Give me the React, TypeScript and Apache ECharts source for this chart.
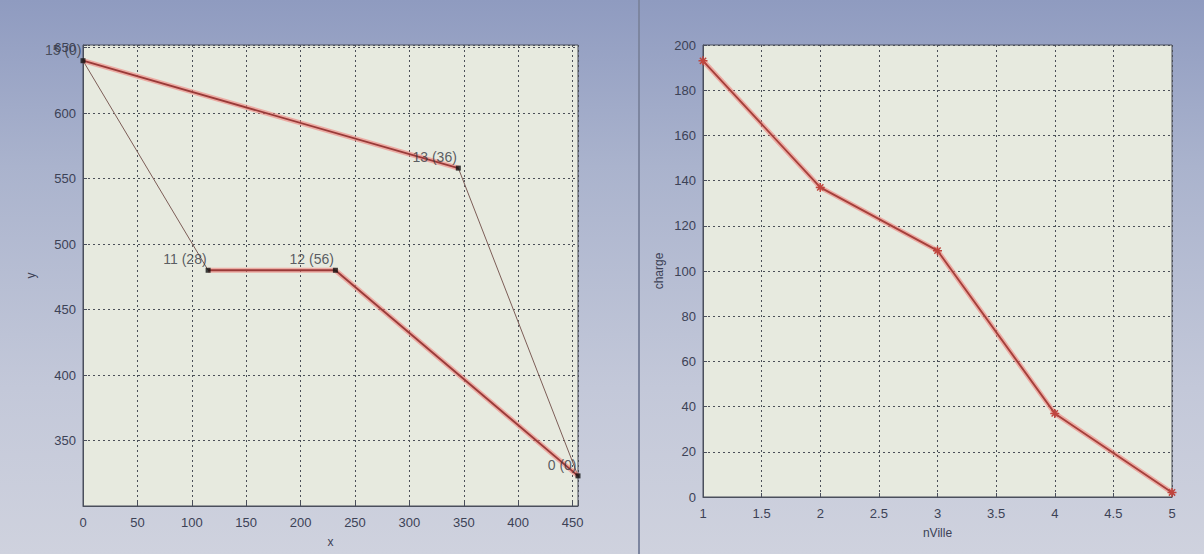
import React, { useEffect, useRef } from "react";
import * as echarts from "echarts";

// Left plot: cities
const cityX = [0, 115, 232, 345, 455];
const cityY = [640, 480, 480, 558, 323];
const cityLabels = ["15 (0)", "11 (28)", "12 (56)", "13 (36)", "0 (0)"];
// route segments by city index
const thickSegments: [number, number][] = [
  [0, 3],
  [4, 2],
  [2, 1],
];
const thinSegments: [number, number][] = [
  [3, 4],
  [1, 0],
];

// Right plot: charge vs nVille
const nVille = [1, 2, 3, 4, 5];
const charge = [193, 137, 109, 37, 2];

const FONT = "Liberation Sans, Arial, sans-serif";
const TXT = "#3c4256";

export default function App() {
  const ref = useRef<HTMLDivElement>(null);
  useEffect(() => {
    if (!ref.current) return;
    const chart = echarts.init(ref.current, undefined, { renderer: "svg" });

    const segSeries = (segs: [number, number][], width: number, color: string, z: number) =>
      segs.map((s) => ({
        type: "line",
        xAxisIndex: 0,
        yAxisIndex: 0,
        z,
        showSymbol: false,
        silent: true,
        lineStyle: { color, width },
        data: s.map((i) => [cityX[i], cityY[i]]),
      }));

    const axisCommon = {
      axisLine: { show: true, onZero: false, lineStyle: { color: "#4a4f5c", width: 1 } },
      axisTick: { show: true, inside: true, length: 4, lineStyle: { color: "#4a4f5c" } },
      splitLine: { show: true, lineStyle: { color: "#4b4f58", type: [2, 3], width: 1 } },
      nameTextStyle: { color: TXT, fontFamily: FONT, fontSize: 12 },
    };

    chart.setOption({
      animation: false,
      grid: [
        { left: 83, top: 45, width: 495, height: 461, show: true, backgroundColor: "#e7eadf", borderColor: "#4a4f5c", borderWidth: 1 },
        { left: 703, top: 45, width: 469, height: 452, show: true, backgroundColor: "#e7eadf", borderColor: "#4a4f5c", borderWidth: 1 },
      ],
      xAxis: [
        {
          ...axisCommon,
          gridIndex: 0,
          type: "value",
          min: 0,
          max: 455,
          interval: 50,
          name: "x",
          nameLocation: "middle",
          nameGap: 30,
          axisLabel: {
            color: TXT, fontFamily: FONT, fontSize: 13, margin: 10,
            formatter: (v: number) => (v % 50 === 0 ? String(v) : ""),
          },
        },
        {
          ...axisCommon,
          gridIndex: 1,
          type: "value",
          min: 1,
          max: 5,
          interval: 0.5,
          name: "nVille",
          nameLocation: "middle",
          nameGap: 30,
          axisLabel: { color: TXT, fontFamily: FONT, fontSize: 13, margin: 10 },
        },
      ],
      yAxis: [
        {
          ...axisCommon,
          gridIndex: 0,
          type: "value",
          min: 300,
          max: 652,
          interval: 50,
          name: "y",
          nameLocation: "middle",
          nameGap: 46,
          axisLabel: {
            color: TXT, fontFamily: FONT, fontSize: 13, margin: 7,
            formatter: (v: number) => (v % 50 === 0 && v !== 300 ? String(v) : ""),
          },
        },
        {
          ...axisCommon,
          gridIndex: 1,
          type: "value",
          min: 0,
          max: 200,
          interval: 20,
          name: "charge",
          nameLocation: "middle",
          nameGap: 38,
          axisLabel: { color: TXT, fontFamily: FONT, fontSize: 13, margin: 7 },
        },
      ],
      graphic: [
        { type: "rect", shape: { x: 638, y: 0, width: 2, height: 554 }, style: { fill: "#7d86a0" }, z: -1 },
      ],
      series: [
        ...segSeries(thinSegments, 1, "#7c5d57", 2),
        ...segSeries(thickSegments, 5, "rgba(240,120,115,0.55)", 3),
        ...segSeries(thickSegments, 1.8, "#9a3a38", 4),
        {
          type: "scatter",
          xAxisIndex: 0,
          yAxisIndex: 0,
          z: 5,
          symbol: "rect",
          symbolSize: 5,
          itemStyle: { color: "#111" },
          data: cityX.map((x, i) => [x, cityY[i]]),
          label: {
            show: true,
            position: "left",
            offset: [6, -11],
            color: "#34373f",
            fontFamily: FONT,
            fontSize: 14,
            formatter: (p: any) => cityLabels[p.dataIndex],
          },
        },
        {
          type: "line",
          xAxisIndex: 1,
          yAxisIndex: 1,
          z: 3,
          silent: true,
          showSymbol: false,
          data: nVille.map((x, i) => [x, charge[i]]),
          lineStyle: { color: "rgba(240,120,115,0.55)", width: 5 },
        },
        {
          type: "line",
          xAxisIndex: 1,
          yAxisIndex: 1,
          z: 4,
          data: nVille.map((x, i) => [x, charge[i]]),
          symbol: "path://M0,-5L0,5M-5,0L5,0M-3.5,-3.5L3.5,3.5M-3.5,3.5L3.5,-3.5",
          symbolSize: 9,
          showSymbol: true,
          itemStyle: { color: "#d4534a", borderColor: "#c0453e", borderWidth: 1.5 },
          lineStyle: { color: "#a53f3a", width: 1.8 },
        },
      ],
    });
    return () => chart.dispose();
  }, []);

  return (
    <div
      ref={ref}
      style={{
        position: "fixed",
        left: 0,
        top: 0,
        width: 1204,
        height: 554,
        background: "linear-gradient(to bottom, #8f9bc0 0%, #aab3cd 30%, #c3c8d9 70%, #cfd2de 100%)",
      }}
    />
  );
}
